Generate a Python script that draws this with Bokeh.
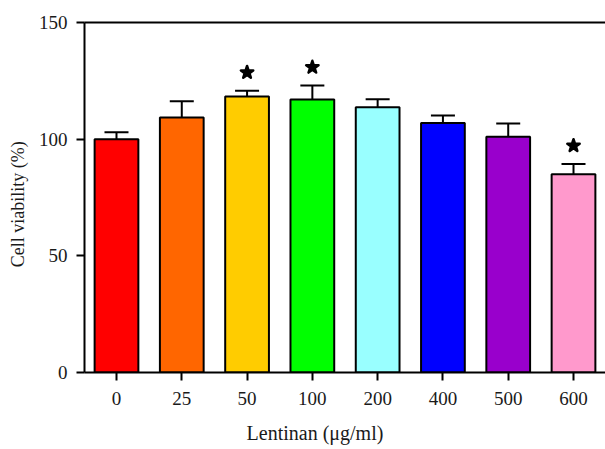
from bokeh.plotting import figure
from bokeh.models import ColumnDataSource, Whisker, TeeHead, LinearAxis, FixedTicker, Range1d
from bokeh.embed import file_html
from bokeh.resources import INLINE

categories = ["0", "25", "50", "100", "200", "400", "500", "600"]
viability = [100, 109.3, 118.3, 117.0, 113.7, 106.9, 101.0, 85.0]
errors = [3.0, 7.0, 2.5, 6.0, 3.4, 3.2, 5.7, 4.4]
significant = [False, False, True, True, False, False, False, True]
colors = ["#FF0000", "#FF6600", "#FFCC00", "#00FF00", "#99FFFF", "#0000FF", "#9900CC", "#FF99CC"]
x_title = "Lentinan (μg/ml)"
y_title = "Cell viability (%)"

xs = list(range(len(categories)))
src = ColumnDataSource(dict(
    x=xs, top=viability,
    upper=[v + e for v, e in zip(viability, errors)],
    color=colors,
))

FONT = "Liberation Serif"
TXT = "#1a1a1a"
NBSP = "\u00a0"

p = figure(width=605, height=449, output_backend="svg", toolbar_location=None,
           x_range=Range1d(-0.49, 7.49), y_range=Range1d(0, 150),
           min_border_left=84, min_border_top=22, min_border_bottom=77, min_border_right=0)
p.outline_line_color = None
p.grid.grid_line_color = None
p.background_fill_color = "white"

p.vbar(x="x", top="top", bottom=0, width=0.67, fill_color="color",
       line_color="black", line_width=2, source=src)

w = Whisker(base="x", upper="upper", lower="top", source=src,
            upper_head=TeeHead(size=24, line_width=2, line_color="black"),
            lower_head=None, line_width=2, line_color="black")
p.add_layout(w)

sx = [x for x, s in zip(xs, significant) if s]
sy = [v + e + 7.8 for v, e, s in zip(viability, errors, significant) if s]
p.scatter(sx, sy, marker="star", size=13, fill_color="black", line_color="black",
          line_width=2.5, line_join="round")

# axes
p.xaxis.ticker = FixedTicker(ticks=xs)
p.xaxis.major_label_overrides = {i: c for i, c in enumerate(categories)}
p.yaxis.ticker = FixedTicker(ticks=[0, 50, 100, 150])
for ax in (p.xaxis[0], p.yaxis[0]):
    ax.axis_line_width = 2
    ax.axis_line_color = "black"
    ax.major_tick_line_width = 2
    ax.major_tick_line_color = "black"
    ax.major_tick_out = 8
    ax.major_tick_in = 0
    ax.minor_tick_line_color = None
    ax.major_label_text_font = FONT
    ax.major_label_text_font_size = "19px"
    ax.major_label_text_color = TXT
    ax.axis_label_text_font = FONT
    ax.axis_label_text_font_style = "normal"
    ax.axis_label_text_color = TXT
# the original titles sit off-centre: trailing no-break spaces shift them
p.xaxis.axis_label = x_title + NBSP * 12
p.yaxis.axis_label = y_title + NBSP * 3
p.xaxis.axis_label_text_font_size = "20px"
p.yaxis.axis_label_text_font_size = "18px"
p.xaxis.major_label_standoff = 11
p.yaxis.major_label_standoff = 9
p.xaxis.axis_label_standoff = 14
p.yaxis.axis_label_standoff = 8

top_axis = LinearAxis(axis_line_width=2, axis_line_color="black",
                      major_tick_line_color=None, minor_tick_line_color=None,
                      major_label_text_font_size="0px")
top_axis.ticker = FixedTicker(ticks=[])
p.add_layout(top_axis, "above")

open("out.html", "w").write(file_html(p, INLINE))
